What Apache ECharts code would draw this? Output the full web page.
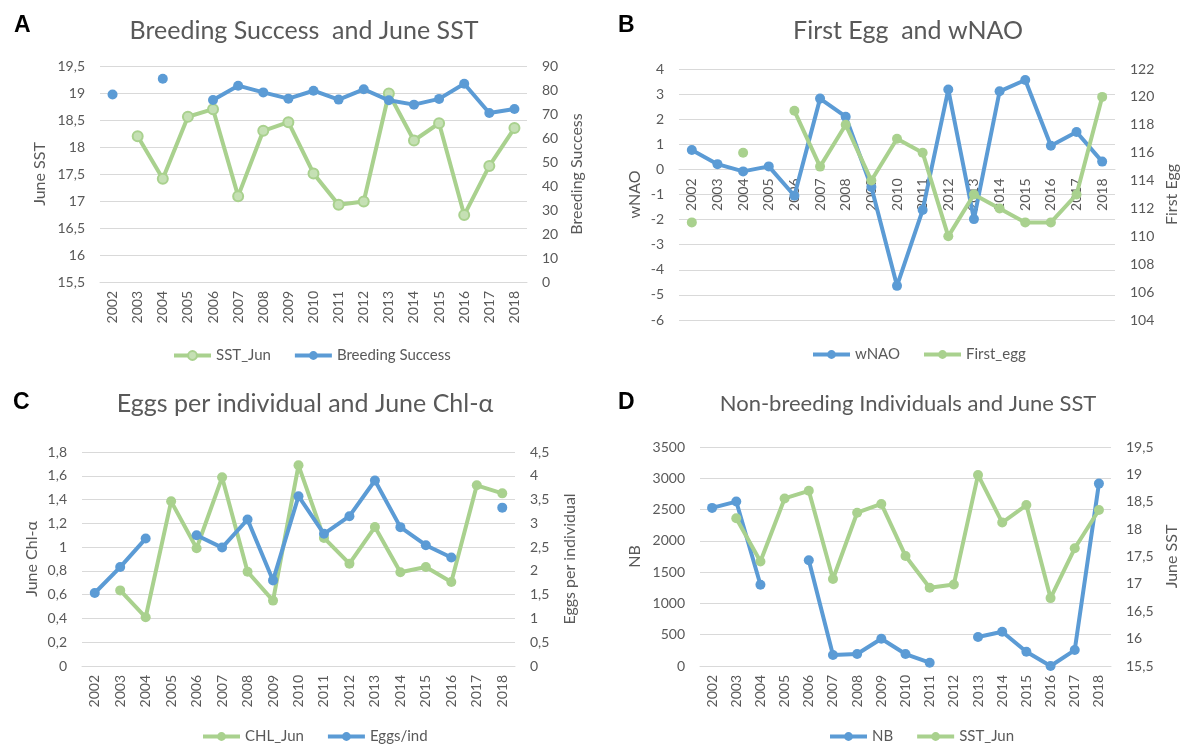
<!DOCTYPE html>
<html>
<head>
<meta charset="utf-8">
<script src="https://cdn.jsdelivr.net/npm/echarts@6/dist/echarts.min.js"></script>
<style>
html,body{margin:0;padding:0;background:#fff;}
#chart{width:1183px;height:746px;}
</style>
</head>
<body>
<div id="chart"></div>
<script>
const years = ['2002','2003','2004','2005','2006','2007','2008','2009','2010','2011','2012','2013','2014','2015','2016','2017','2018'];
const sstJun = [null, 18.2, 17.41, 18.56, 18.7, 17.09, 18.3, 18.46, 17.51, 16.93, 16.99, 18.99, 18.12, 18.44, 16.74, 17.65, 18.35];
const breedingSuccess = [78.1, null, 84.7, null, 75.8, 81.8, 79.0, 76.4, 79.7, 76.0, 80.3, 75.7, 73.9, 76.3, 82.6, 70.4, 72.1];
const wNAO = [0.77, 0.21, -0.08, 0.12, -1.05, 2.82, 2.1, -0.7, -4.64, -1.62, 3.18, -1.98, 3.11, 3.56, 0.94, 1.49, 0.31];
const firstEgg = [111, null, 116, null, 119, 115, 118, 114, 117, 116, 110, 113, 112, 111, 111, 113, 120];
const chlJun = [null, 0.636, 0.41, 1.385, 0.99, 1.587, 0.793, 0.55, 1.688, 1.077, 0.861, 1.169, 0.788, 0.833, 0.707, 1.52, 1.452];
const eggsPerInd = [1.535, 2.08, 2.68, null, 2.75, 2.49, 3.08, 1.8, 3.57, 2.78, 3.15, 3.9, 2.92, 2.54, 2.28, null, 3.33];
const nb = [2527, 2628, 1298, null, 1691, 176, 191, 436, 191, 53, null, 463, 548, 229, 0, 255, 2915];

const GREEN = '#A9D18E';
const GREEN_LIGHT = '#C5E0B4';
const BLUE = '#5B9BD5';
const TXT = '#595959';
const GRIDC = '#D9D9D9';
const FONT = 'Lato';

const comma = v => String(v).replace('.', ',');

const grids = [
  {left: 100, top: 66, width: 427, height: 216},
  {left: 679, top: 69, width: 436, height: 251},
  {left: 82, top: 452, width: 433, height: 214},
  {left: 700, top: 447, width: 411, height: 219}
];

function xAxis(i) {
  return {
    type: 'category', gridIndex: i, data: years, boundaryGap: true,
    axisLine: {show: true, onZero: false, lineStyle: {color: GRIDC, width: 1}},
    axisTick: {show: false},
    axisLabel: {rotate: 90, color: TXT, fontFamily: FONT, fontSize: 14, margin: 9, interval: 0}
  };
}
function yAxis(i, pos, min, max, interval, name, nameGap, grid) {
  return {
    type: 'value', gridIndex: i, position: pos, min: min, max: max, interval: interval,
    name: name, nameLocation: 'middle', nameRotate: 90, nameGap: nameGap,
    nameTextStyle: {color: TXT, fontFamily: FONT, fontSize: 16},
    axisLine: {show: false}, axisTick: {show: false},
    axisLabel: {color: TXT, fontFamily: FONT, fontSize: 14, margin: 15, formatter: comma},
    splitLine: {show: grid, lineStyle: {color: GRIDC, width: 1}}
  };
}
function line(name, data, xi, yi, color, fill, z) {
  return {
    type: 'line', name: name, data: data, xAxisIndex: xi, yAxisIndex: yi,
    symbol: 'circle', symbolSize: 10, showSymbol: true, connectNulls: false,
    lineStyle: {color: color, width: 4},
    itemStyle: {color: fill || color, borderColor: color, borderWidth: fill ? 2 : 0},
    z: z, animation: false
  };
}
function legendItem(name, color, fill) {
  return {name: name, itemStyle: {color: fill || color, borderColor: color, borderWidth: fill ? 2 : 0}, lineStyle: {color: color, width: 4}};
}
const legendCommon = {itemWidth: 37, itemHeight: 11, itemGap: 22, textStyle: {color: TXT, fontFamily: FONT, fontSize: 15}, selectedMode: false};

const titleStyle = {color: TXT, fontFamily: FONT, fontSize: 25, fontWeight: 'normal'};
const letterStyle = {color: '#000', fontFamily: 'Liberation Sans', fontSize: 23, fontWeight: 'bold'};

const option = {
  backgroundColor: '#fff',
  animation: false,
  title: [
    {text: 'A', left: 9, top: 9, textStyle: letterStyle},
    {text: 'B', left: 613, top: 9, textStyle: letterStyle},
    {text: 'C', left: 8, top: 386, textStyle: letterStyle},
    {text: 'D', left: 613, top: 386, textStyle: letterStyle},
    {text: 'Breeding Success  and June SST', left: 299, top: 13, textAlign: 'center', textStyle: titleStyle},
    {text: 'First Egg  and wNAO', left: 903, top: 13, textAlign: 'center', textStyle: titleStyle},
    {text: 'Eggs per individual and June Chl-α', left: 300, top: 386, textAlign: 'center', textStyle: titleStyle},
    {text: 'Non-breeding Individuals and June SST', left: 903, top: 388, textAlign: 'center', textStyle: Object.assign({}, titleStyle, {fontSize: 22})}
  ],
  grid: grids,
  xAxis: [xAxis(0), xAxis(1), xAxis(2), xAxis(3)],
  yAxis: [
    yAxis(0, 'left', 15.5, 19.5, 0.5, 'June SST', 52, true),
    yAxis(0, 'right', 0, 90, 10, 'Breeding Success', 42, false),
    yAxis(1, 'left', -6, 4, 1, 'wNAO', 36, true),
    yAxis(1, 'right', 104, 122, 2, 'First Egg', 49, false),
    yAxis(2, 'left', 0, 1.8, 0.2, 'June Chl-α', 42, true),
    yAxis(2, 'right', 0, 4.5, 0.5, 'Eggs per individual', 47, false),
    yAxis(3, 'left', 0, 3500, 500, 'NB', 57, true),
    yAxis(3, 'right', 15.5, 19.5, 0.5, 'June SST', 53, false)
  ],
  legend: [
    Object.assign({}, legendCommon, {left: 167, top: 343, data: [legendItem('SST_Jun', GREEN, GREEN_LIGHT), legendItem('Breeding Success', BLUE)]}),
    Object.assign({}, legendCommon, {left: 806, top: 342, data: [legendItem('wNAO', BLUE), legendItem('First_egg', GREEN)]}),
    Object.assign({}, legendCommon, {left: 196, top: 724, data: [legendItem('CHL_Jun', GREEN), legendItem('Eggs/ind', BLUE)]}),
    Object.assign({}, legendCommon, {left: 823, top: 724, data: [legendItem('NB', BLUE), legendItem('SST_Jun', GREEN)]})
  ],
  series: [
    line('SST_Jun', sstJun, 0, 0, GREEN, GREEN_LIGHT, 2),
    line('Breeding Success', breedingSuccess, 0, 1, BLUE, null, 3),
    line('wNAO', wNAO, 1, 2, BLUE, null, 2),
    line('First_egg', firstEgg, 1, 3, GREEN, null, 3),
    line('CHL_Jun', chlJun, 2, 4, GREEN, null, 2),
    line('Eggs/ind', eggsPerInd, 2, 5, BLUE, null, 3),
    line('NB', nb, 3, 6, BLUE, null, 2),
    line('SST_Jun', sstJun, 3, 7, GREEN, null, 3)
  ]
};
const chart = echarts.init(document.getElementById('chart'), null, {renderer: 'canvas'});
chart.setOption(option);
// Panel B: place the category axis at wNAO = 0 (position computed by the library's own scale)
const zeroY = chart.convertToPixel({yAxisIndex: 2}, 0);
const bBottom = grids[1].top + grids[1].height;
const xs = option.xAxis.map((a, i) => i === 1 ? {offset: zeroY - bBottom} : {});
chart.setOption({xAxis: xs});
</script>
</body>
</html>
